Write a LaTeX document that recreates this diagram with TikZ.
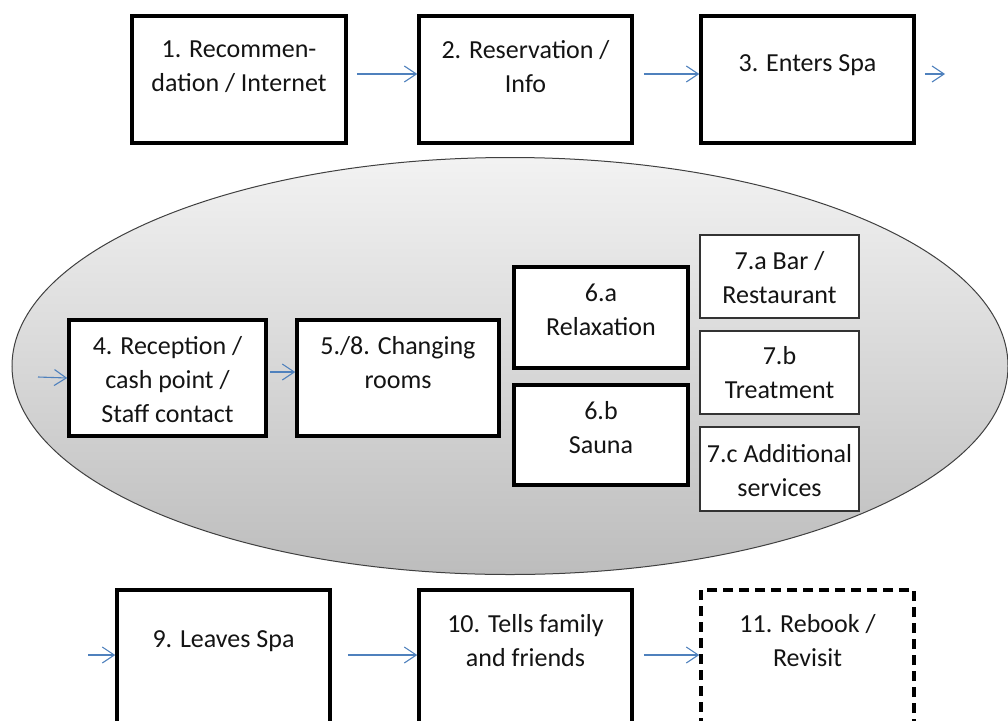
\documentclass[tikz,border=0pt]{standalone}
\usepackage{fontspec}
\setmainfont{Carlito}
\usetikzlibrary{arrows.meta,shapes.geometric}
\definecolor{arrowblue}{HTML}{4F81BD}
\definecolor{txt}{HTML}{141414}
\begin{document}
\begin{tikzpicture}[x=1pt,y=-1pt,
  thickbox/.style={draw=black, line width=3.5pt, fill=white, inner sep=0pt},
  dashbox/.style={thickbox, dash pattern=on 10pt off 6pt},
  thinbox/.style={draw=black!80, line width=1.4pt, fill=white, inner sep=0pt},
  lbl/.style={align=center, text=txt, inner sep=0pt, font=\fontsize{26}{34}\selectfont},
  arr/.style={draw=arrowblue, line width=1.1pt, -{Straight Barb[length=12pt,width=16pt]}}
]
\useasboundingbox (0,0) rectangle (1008,720);

% spa zone
\node[ellipse, draw=black!75, line width=1pt, top color=black!5, bottom color=black!26,
      minimum width=996pt, minimum height=417pt, inner sep=0pt] (spa) at (510,366) {};

% top row
\node[thickbox, minimum width=214pt, minimum height=127pt] (b1) at (239,79.5) {};
\node[thickbox, minimum width=213pt, minimum height=127pt] (b2) at (525.5,79.5) {};
\node[thickbox, minimum width=213pt, minimum height=127pt] (b3) at (807.5,79.5) {};
\node[lbl] (t1) at (239,67) {1. Recommen-\\dation / Internet};
\node[lbl] (t2) at (525.5,67) {2. Reservation /\\Info};
\node[lbl] (t3) at (807.5,65) {3. Enters Spa};

% inside spa
\node[thickbox, minimum width=197pt, minimum height=116pt] (b4) at (167.5,378) {};
\node[thickbox, minimum width=202pt, minimum height=116pt] (b5) at (398,378) {};
\node[thickbox, minimum width=174pt, minimum height=101pt] (b6a) at (601,317.5) {};
\node[thickbox, minimum width=174pt, minimum height=100pt] (b6b) at (601,435) {};
\node[thinbox, minimum width=159pt, minimum height=83pt] (b7a) at (779.5,276.5) {};
\node[thinbox, minimum width=159pt, minimum height=83pt] (b7b) at (779.5,372.5) {};
\node[thinbox, minimum width=159pt, minimum height=84pt] (b7c) at (779.5,469) {};
\node[lbl] (t4) at (167.5,380) {4. Reception /\\cash point /\\Staff contact};
\node[lbl] (t5) at (398,363) {5./8. Changing\\rooms};
\node[lbl] (t6a) at (601,310) {6.a\\Relaxation};
\node[lbl] (t6b) at (601,427.5) {6.b\\Sauna};
\node[lbl] (t7a) at (779.5,278) {7.a Bar /\\Restaurant};
\node[lbl] (t7b) at (779.5,372.5) {7.b\\Treatment};
\node[lbl] (t7c) at (779.5,470.5) {7.c Additional\\services};

% bottom row
\node[thickbox, minimum width=213pt, minimum height=150pt] (b9) at (223.5,665) {};
\node[thickbox, minimum width=213pt, minimum height=150pt] (b10) at (525.5,665) {};
\node[dashbox, minimum width=213pt, minimum height=150pt] (b11) at (807.5,665) {};
\node[lbl] (t9) at (223.5,641) {9. Leaves Spa};
\node[lbl] (t10) at (525.5,641) {10. Tells family\\and friends};
\node[lbl] (t11) at (807.5,641) {11. Rebook /\\Revisit};

% free ends
\coordinate (e3) at (945,74);
\coordinate (s4) at (38,377);
\coordinate (s9) at (88,655);

% connectors
\draw[arr] ([xshift=9pt,yshift=5.5pt]b1.east) -- ([yshift=5.5pt]b2.west);
\draw[arr] ([xshift=10pt,yshift=5.5pt]b2.east) -- ([yshift=5.5pt]b3.west);
\draw[arr] ([xshift=9pt,yshift=5.5pt]b3.east) -- (e3);
\draw[arr] (s4) -- (b4.west);
\draw[arr] ([xshift=2pt,yshift=6pt]b4.east) -- ([yshift=6pt]b5.west);
\draw[arr] (s9) -- ([yshift=10pt]b9.west);
\draw[arr] ([xshift=16pt,yshift=10pt]b9.east) -- ([yshift=10pt]b10.west);
\draw[arr] ([xshift=10pt,yshift=10pt]b10.east) -- ([yshift=10pt]b11.west);
\end{tikzpicture}
\end{document}
